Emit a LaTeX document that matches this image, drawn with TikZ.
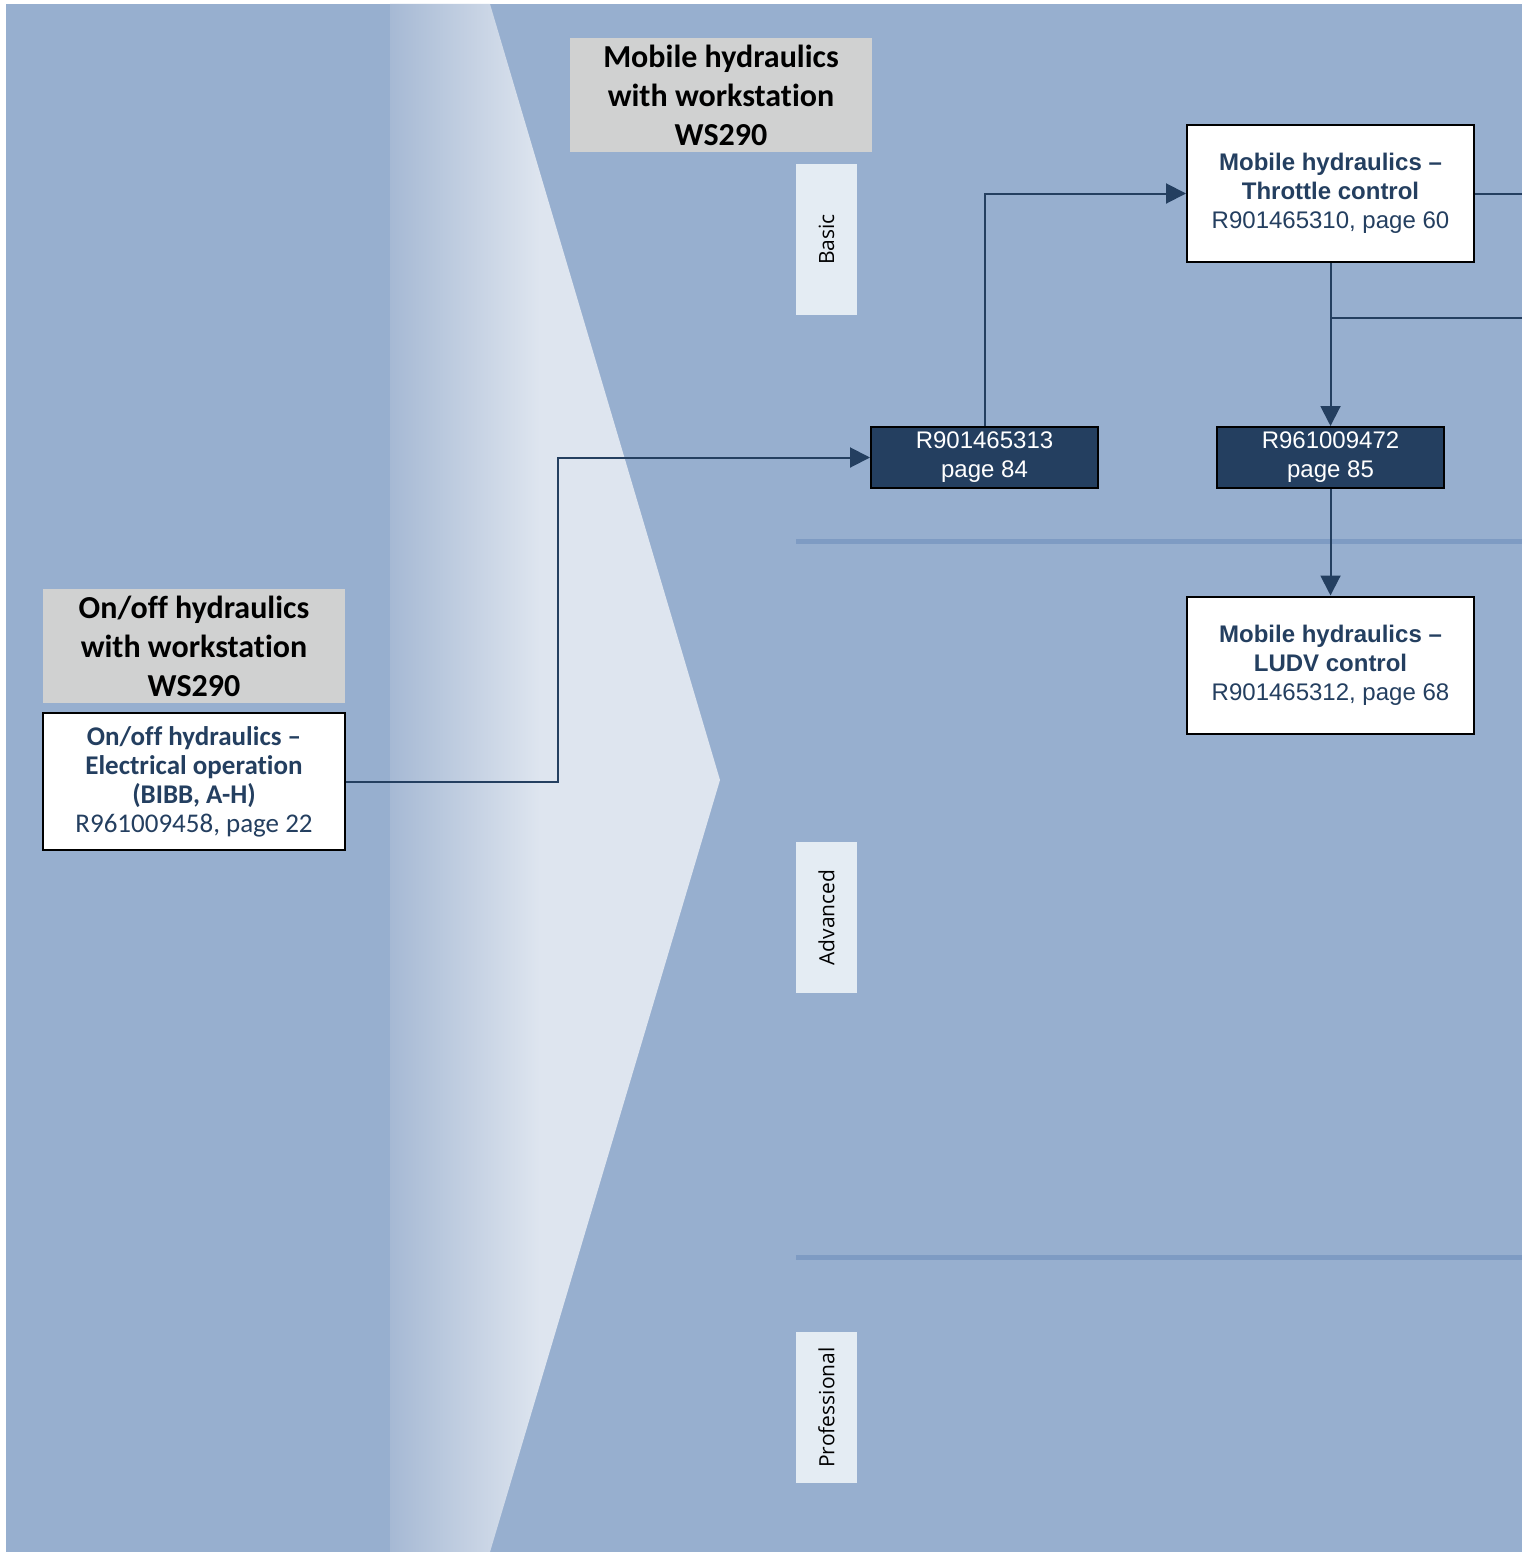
\documentclass[tikz,border=0pt]{standalone}
\usepackage{fontspec}
\setmainfont{Liberation Sans}
\newfontfamily\headfont[Ligatures={NoCommon}]{Carlito}
\newfontfamily\tagfont{Open Sans}
\usepackage{tikz}
\usetikzlibrary{arrows.meta,positioning,calc}
\definecolor{bgblue}{HTML}{97AFCF}
\definecolor{navy}{HTML}{243F60}
\definecolor{headgrey}{HTML}{D0D1D1}
\definecolor{tagfill}{HTML}{E4ECF3}
\definecolor{sepline}{HTML}{7E9BC3}
\definecolor{chevA}{HTML}{A6B9D4}
\definecolor{chevB}{HTML}{DEE5EF}
\pgfdeclarehorizontalshading{chevron}{100bp}{color(0bp)=(chevA); color(25bp)=(chevA);
  color(47.7bp)=(chevB); color(100bp)=(chevB)}
\tikzset{
  >={Triangle[length=10pt,width=10pt]},
  flow/.style={->,draw=navy,line width=1pt},
  plainflow/.style={draw=navy,line width=1pt},
  heading/.style={fill=headgrey,minimum width=151pt,minimum height=57pt,inner sep=0pt,
                  align=center,font=\headfont\fontsize{16}{19.5}\selectfont\bfseries},
  levelbox/.style={fill=tagfill,rotate=90,minimum width=75.5pt,minimum height=30.5pt,
                   inner sep=0pt,font=\tagfont\fontsize{10.5}{12}\selectfont},
  module/.style={draw=black,fill=white,line width=1pt,minimum width=143.5pt,minimum height=68.5pt,
                 inner sep=0pt,align=center,text=navy,font=\fontsize{12}{14.5}\selectfont},
  refbox/.style={draw=black,fill=navy,line width=1pt,minimum width=113.5pt,minimum height=30.5pt,
                 inner sep=0pt,align=center,text=white,font=\fontsize{12}{14.5}\selectfont},
  separator/.style={draw=sepline,line width=2.5pt},
}
\begin{document}
\begin{tikzpicture}[x=0.5pt,y=-0.5pt]
  \useasboundingbox (0,0) rectangle (1522,1552);
  \fill[bgblue] (6,4) rectangle (1522,1552);
  % light chevron band
  \shade[shading=chevron] (390,4) -- (490,4) -- (720,780) -- (490,1552) -- (390,1552) -- cycle;
  \draw[separator] (796,541) -- (1522,541);
  \draw[separator] (796,1257) -- (1522,1257);

  \node[heading] (headmobile) at (721,95) {Mobile hydraulics\\with workstation\\WS290};
  \node[heading] (headonoff) at (194,646) {On/off hydraulics\\with workstation\\WS290};

  \node[levelbox] (basic) at (826.5,239.5) {Basic};
  \node[levelbox] (advanced) at (826.5,917.5) {Advanced};
  \node[levelbox] (professional) at (826.5,1407.5) {Professional};

  \node[module,minimum width=151pt,font=\headfont\fontsize{13.5}{14.5}\selectfont] (onoff) at (194,781.5)
    {\textbf{On/off hydraulics –}\\\textbf{Electrical operation}\\\textbf{(BIBB, A-H)}\\R961009458, page 22};
  \node[module] (throttle) at (1330.5,193.5)
    {\textbf{Mobile hydraulics –}\\\textbf{Throttle control}\\R901465310, page 60};
  \node[module] (ludv) at (1330.5,665)
    {\textbf{Mobile hydraulics –}\\\textbf{LUDV control}\\R901465312, page 68};
  \node[refbox] (ref84) at (984.5,457.5) {R901465313\\page 84};
  \node[refbox] (ref85) at (1330.5,457.5) {R961009472\\page 85};

  \coordinate (outA) at (1522,193.5);
  \coordinate (tap) at (1330.5,318);
  \coordinate (outB) at (1522,318);

  \draw[flow] (onoff.east) -- ++(212,0) |- (ref84.west);
  \draw[flow] (ref84.north) |- (throttle.west);
  \draw[plainflow] (throttle.east) -- (outA);
  \draw[flow] (throttle.south) -- (ref85.north);
  \draw[plainflow] (tap) -- (outB);
  \draw[flow] (ref85.south) -- (ludv.north);
\end{tikzpicture}
\end{document}
